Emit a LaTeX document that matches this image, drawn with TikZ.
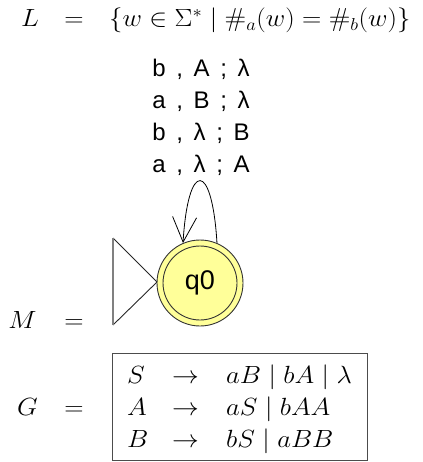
\documentclass[tikz,border=0pt]{standalone}
\usepackage{fontspec}
\usepackage{amsmath}
\usepackage{graphicx}
\newfontfamily\labfont[WordSpace=1.6]{Liberation Sans}
\usetikzlibrary{arrows.meta}
\definecolor{stateyellow}{RGB}{255,255,153}
\newcommand{\wm}[1]{\scalebox{1.075}[1]{$#1$}}
\begin{document}
\begin{tikzpicture}[x=1pt,y=-1pt,
  mathtxt/.style={inner sep=0pt,anchor=base,font=\fontsize{26}{31}\selectfont},
  mathleft/.style={mathtxt,anchor=base west},
  lab/.style={inner sep=0pt,anchor=base,font=\fontsize{24}{28}\labfont},
  state/.style={circle,draw=black!80,line width=0.9pt,fill=stateyellow,minimum size=86pt,inner sep=0pt,font=\fontsize{27}{32}\labfont}]
\useasboundingbox (0,0) rectangle (422,462);
% L = ...
\node[mathtxt] (Lname) at (30,27) {\wm{L}};
\node[mathtxt] (Leq) at (74,27) {\wm{=}};
\node[mathleft] (Lset) at (109,27) {\wm{\{w\in\Sigma^*\mid \#_a(w)=\#_b(w)\}}};
% transition labels
\node[lab] (t1) at (201,77) {b , A ; λ};
\node[lab] (t2) at (201,109) {a , B ; λ};
\node[lab] (t3) at (201,141) {b , λ ; B};
\node[lab] (t4) at (201,173) {a , λ ; A};
% initial triangle
\draw[black!85,line width=0.9pt] (157,282) -- (113,238);
\draw[black!85,line width=0.9pt] (157,282) -- (113,325);
\draw[gray,line width=1.6pt] (113,238) -- (113,325);
% state
\node[state] (q0) at (200,283) {q0};
\draw[black!80,line width=0.9pt] (q0.center) circle (37);
% loop
\draw[line width=0.8pt,-{Straight Barb[length=25pt,width=24pt,line width=0.8pt]}]
  (q0.67) .. controls (212,160) and (188,160) .. (q0.113);
% M =
\node[mathtxt] (Mname) at (22.5,328) {\wm{M}};
\node[mathtxt] (Meq) at (74,328) {\wm{=}};
% G =
\node[mathtxt] (Gname) at (27.5,415) {\wm{G}};
\node[mathtxt] (Geq) at (74,415) {\wm{=}};
\node[draw=black!70,line width=0.8pt,minimum width=255pt,minimum height=107pt,inner sep=0pt] (Gbox) at (239.5,406.5) {};
\node[mathleft] (r1l) at (127,383) {\wm{S}};
\node[mathtxt] (r1a) at (185.5,383) {\wm{\rightarrow}};
\node[mathleft] (r1r) at (226,383) {\wm{aB\mid bA\mid \lambda}};
\node[mathleft] (r2l) at (127,415) {\wm{A}};
\node[mathtxt] (r2a) at (185.5,415) {\wm{\rightarrow}};
\node[mathleft] (r2r) at (226,415) {\wm{aS\mid bAA}};
\node[mathleft] (r3l) at (127,447) {\wm{B}};
\node[mathtxt] (r3a) at (185.5,447) {\wm{\rightarrow}};
\node[mathleft] (r3r) at (226,447) {\wm{bS\mid aBB}};
\end{tikzpicture}
\end{document}
